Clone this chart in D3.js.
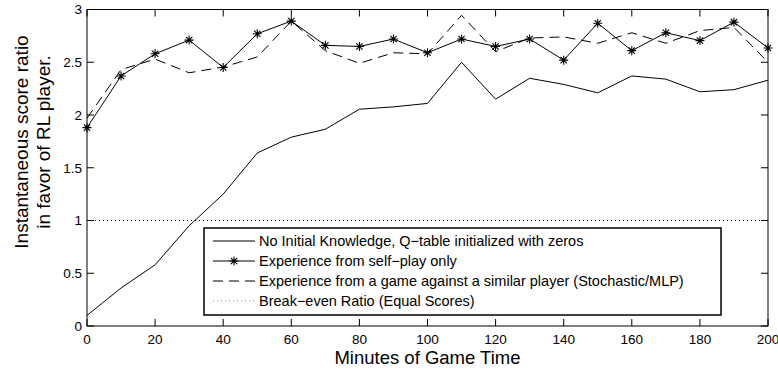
<!DOCTYPE html>
<html><head><meta charset="utf-8">
<script src="https://cdn.jsdelivr.net/npm/d3@7"></script>
<style>body{margin:0;background:#fff}svg{display:block;font-family:"Liberation Sans",Arial,sans-serif}</style>
</head><body>
<svg id="c" width="778" height="369"></svg>
<script>
const minutes = [0,10,20,30,40,50,60,70,80,90,100,110,120,130,140,150,160,170,180,190,200];
const noKnowledge = [0.10,0.36,0.58,0.95,1.25,1.64,1.79,1.865,2.055,2.077,2.11,2.50,2.15,2.348,2.29,2.21,2.37,2.34,2.22,2.24,2.33];
const selfPlay = [1.88,2.37,2.58,2.71,2.45,2.77,2.89,2.66,2.65,2.72,2.59,2.72,2.65,2.72,2.52,2.87,2.61,2.78,2.705,2.88,2.635];
const similarPlayer = [1.97,2.43,2.53,2.40,2.455,2.55,2.89,2.61,2.49,2.59,2.58,2.945,2.60,2.73,2.74,2.68,2.78,2.68,2.80,2.83,2.50];
const breakEven = 1;
const xTicks = [0,20,40,60,80,100,120,140,160,180,200];
const yTicks = [0,0.5,1,1.5,2,2.5,3];
const legendLabels = [
  "No Initial Knowledge, Q\u2212table initialized with zeros",
  "Experience from self\u2212play only",
  "Experience from a game against a similar player (Stochastic/MLP)",
  "Break\u2212even Ratio (Equal Scores)"
];
const xLabel = "Minutes of Game Time";
const yLabel = ["Instantaneous score ratio","in favor of RL player."];

const svg = d3.select("#c");
const L=87, R=768, T=9.5, B=326;
const x = d3.scaleLinear().domain([0,200]).range([L,R]);
const y = d3.scaleLinear().domain([0,3]).range([B,T]);

const line = d3.line().x((d,i)=>x(minutes[i])).y(d=>y(d));

svg.append("line").attr("x1",x(0)).attr("x2",x(200)).attr("y1",y(breakEven)).attr("y2",y(breakEven))
  .attr("stroke","#000").attr("stroke-width",1).attr("stroke-dasharray","1,3");

svg.append("path").attr("d",line(noKnowledge)).attr("fill","none").attr("stroke","#000").attr("stroke-width",1);
svg.append("path").attr("d",line(similarPlayer)).attr("fill","none").attr("stroke","#000").attr("stroke-width",1).attr("stroke-dasharray","10,6");
svg.append("path").attr("d",line(selfPlay)).attr("fill","none").attr("stroke","#000").attr("stroke-width",1);

function star(g, cx, cy, r){
  const d = `M${cx-r},${cy}L${cx+r},${cy}M${cx},${cy-r}L${cx},${cy+r}`+
    `M${cx-r*0.7},${cy-r*0.7}L${cx+r*0.7},${cy+r*0.7}M${cx-r*0.7},${cy+r*0.7}L${cx+r*0.7},${cy-r*0.7}`;
  g.append("path").attr("d",d).attr("stroke","#000").attr("stroke-width",1.1).attr("fill","none");
}
const sg = svg.append("g");
selfPlay.forEach((v,i)=>star(sg, x(minutes[i]), y(v), 4.5));

const ax = svg.append("g");
ax.append("rect").attr("x",L).attr("y",T).attr("width",R-L).attr("height",B-T).attr("fill","none").attr("stroke","#000").attr("stroke-width",1);
const tl = 7;
xTicks.forEach(t=>{
  ax.append("line").attr("x1",x(t)).attr("x2",x(t)).attr("y1",B).attr("y2",B-tl).attr("stroke","#000");
  ax.append("line").attr("x1",x(t)).attr("x2",x(t)).attr("y1",T).attr("y2",T+tl).attr("stroke","#000");
  ax.append("text").attr("x",x(t)).attr("y",344).attr("text-anchor","middle").attr("font-size",13.5).text(t);
});
yTicks.forEach(t=>{
  ax.append("line").attr("x1",L).attr("x2",L+tl).attr("y1",y(t)).attr("y2",y(t)).attr("stroke","#000");
  ax.append("line").attr("x1",R).attr("x2",R-tl).attr("y1",y(t)).attr("y2",y(t)).attr("stroke","#000");
  ax.append("text").attr("x",82).attr("y",y(t)+4.8).attr("text-anchor","end").attr("font-size",13.5).text(t);
});

svg.append("text").attr("x",(L+R)/2).attr("y",364).attr("text-anchor","middle").attr("font-size",18.5).text(xLabel);
const yl = svg.append("g").attr("transform","translate(0,142) rotate(-90)");
yl.append("text").attr("x",0).attr("y",28).attr("text-anchor","middle").attr("font-size",19).text(yLabel[0]);
yl.append("text").attr("x",0).attr("y",50).attr("text-anchor","middle").attr("font-size",19).text(yLabel[1]);

const lg = svg.append("g");
lg.append("rect").attr("x",204).attr("y",228).attr("width",517).attr("height",87).attr("fill","#fff").attr("stroke","#000").attr("stroke-width",1.5);
const rows=[241,261,281,301];
const styles=[null,null,"10,6","1,3"];
rows.forEach((ry,i)=>{
  const ln = lg.append("line").attr("x1",213).attr("x2",255).attr("y1",ry).attr("y2",ry).attr("stroke",i==3?"#999":"#000").attr("stroke-width",1);
  if(styles[i]) ln.attr("stroke-dasharray",styles[i]);
  if(i==1) star(lg,234,ry,4.5);
  lg.append("text").attr("x",259).attr("y",ry+5.2).attr("font-size",14.5).text(legendLabels[i]);
});
</script>
</body></html>
